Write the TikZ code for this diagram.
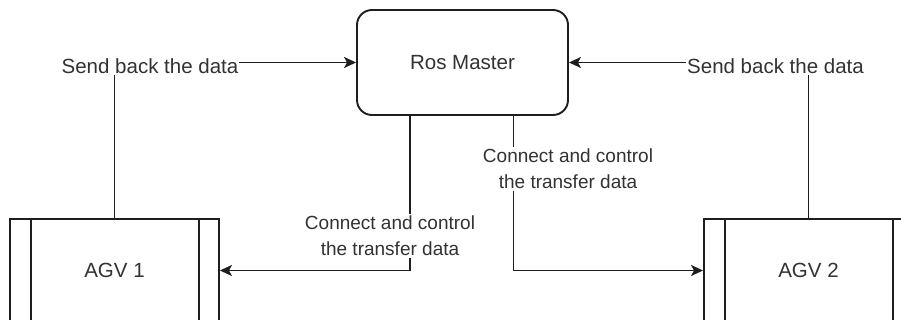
\documentclass[tikz,border=0pt]{standalone}
\usepackage{fontspec}
\setmainfont{Liberation Sans}
\usetikzlibrary{arrows.meta}
\definecolor{ink}{RGB}{30,30,30}
\definecolor{txt}{RGB}{50,50,50}
\begin{document}
\begin{tikzpicture}[x=1pt,y=-1pt,
  line/.style={draw=ink,line width=1.9pt},
  arr/.style={line,-{Stealth[length=12pt,width=11pt,inset=3pt]}},
  master/.style={line,rectangle,rounded corners=15pt,minimum width=211pt,minimum height=105pt,
    font=\fontsize{20.5}{24}\selectfont,text=txt},
  procbox/.style={line,rectangle,minimum width=209pt,minimum height=103pt,
    font=\fontsize{20.5}{24}\selectfont,text=txt},
  sidelab/.style={fill=white,inner sep=1pt,font=\fontsize{20.5}{24}\selectfont,text=txt},
  midlab/.style={fill=white,inner sep=2pt,align=center,font=\fontsize{19}{26}\selectfont,text=txt}]
\clip (0,0) rectangle (901,320);
\fill[white] (0,0) rectangle (901,320);

% nodes
\node[master] (ros) at (462.5,62.5) {Ros Master};
\node[procbox] (agv1) at (114.5,270.5) {AGV 1};
\node[procbox] (agv2) at (808.5,270.5) {AGV 2};
% side bars of the two process boxes
\draw[line] ([xshift=22pt]agv1.north west) -- ([xshift=22pt]agv1.south west);
\draw[line] ([xshift=-21pt]agv1.north east) -- ([xshift=-21pt]agv1.south east);
\draw[line] ([xshift=22pt]agv2.north west) -- ([xshift=22pt]agv2.south west);
\draw[line] ([xshift=-21pt]agv2.north east) -- ([xshift=-21pt]agv2.south east);

% feedback from the AGVs to the master
\draw[arr] (agv1.north) |- (ros.west);
\node[sidelab] (sendL) at (150,66) {Send back the data};
\draw[arr] (agv2.north) |- (ros.east);
\node[sidelab] (sendR) at (775.5,66) {Send back the data};

% control links from the master to the AGVs
\coordinate (rosL) at ([xshift=-52.5pt]ros.south);
\coordinate (rosR) at ([xshift=51pt]ros.south);
\draw[arr] (rosL) |- (agv1.east);
\node[midlab] (ctlL) at (390,236) {Connect and control\\the transfer data};
\draw[arr] (rosR) |- (agv2.west);
\node[midlab] (ctlR) at (568,169) {Connect and control\\the transfer data};
\end{tikzpicture}
\end{document}
